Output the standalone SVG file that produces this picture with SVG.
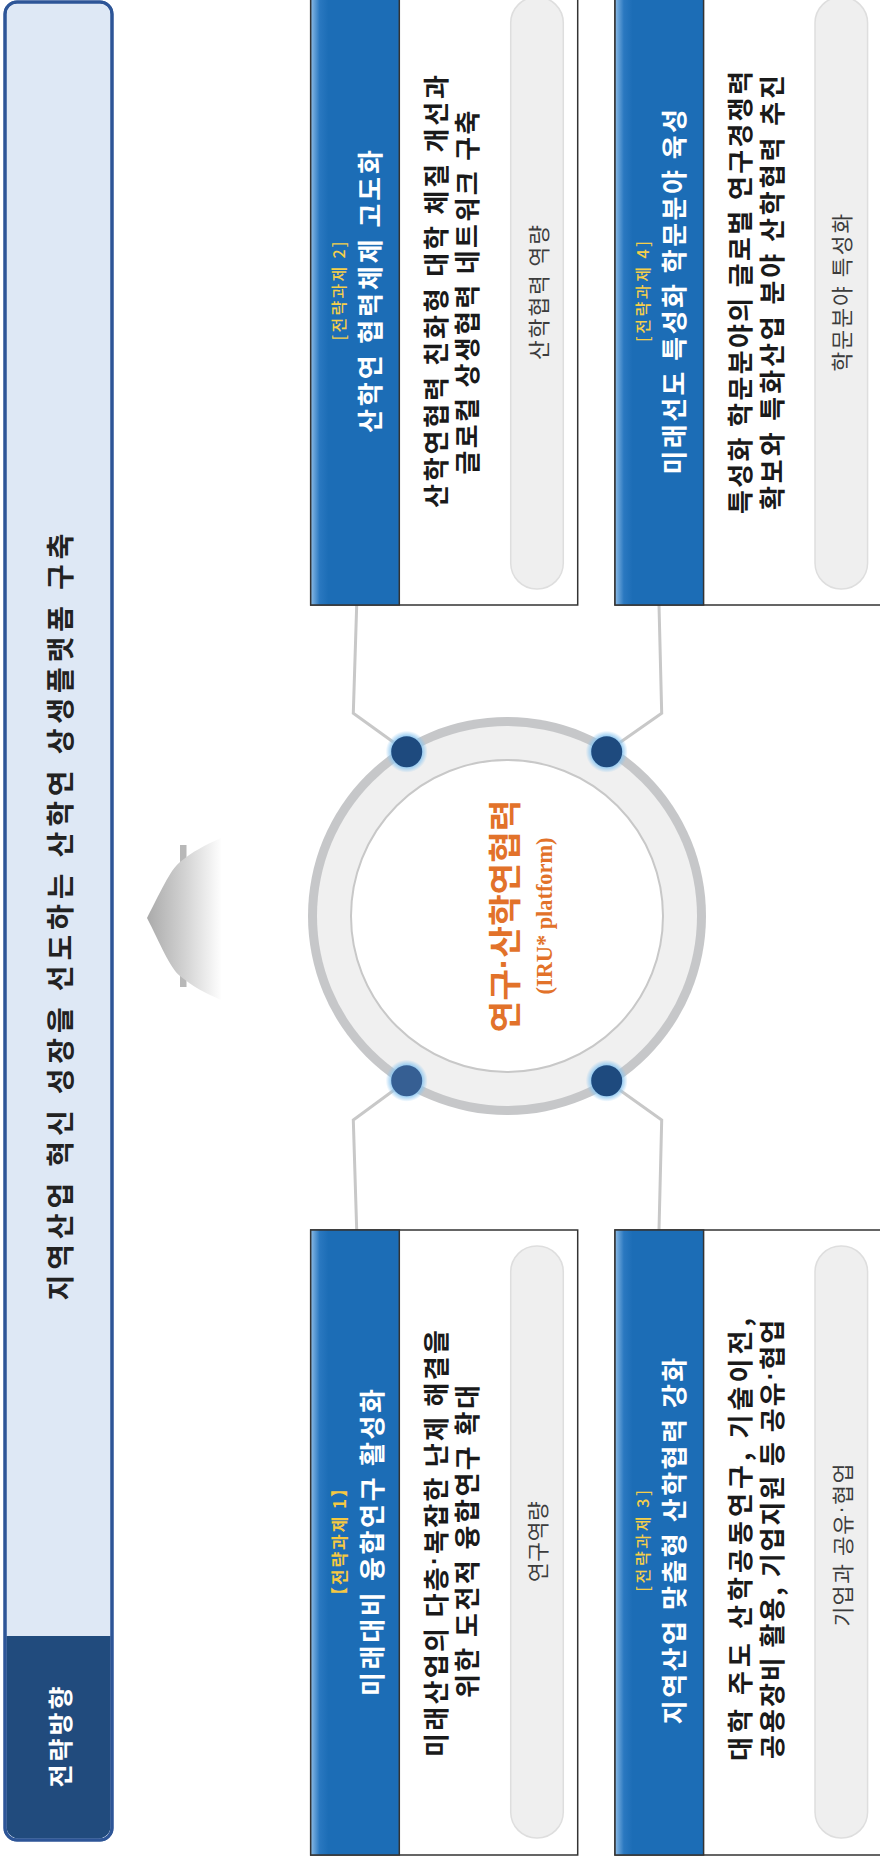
<svg xmlns="http://www.w3.org/2000/svg" width="880" height="1858" viewBox="0 0 880 1858">
<defs>
<style>
.kr{font-family:"Noto Sans CJK KR","Noto Sans",sans-serif;}
.rt{text-anchor:middle;dominant-baseline:central;}
.ls{font-family:"Liberation Sans",sans-serif;}
.ttl{font-size:26px;font-weight:700;fill:#ffffff;}
.body{font-size:26px;font-weight:700;fill:#1a1a1a;}
.lab{font-size:16px;font-weight:500;fill:#f5cf4a;}
.pilltxt{font-size:21.5px;fill:#3c3c3c;}
.card{fill:#ffffff;stroke:#333333;stroke-width:1.5;}
.hdr{fill:url(#hdrg);stroke:#333333;stroke-width:1.5;}
.pill{fill:#efefef;stroke:#dedede;stroke-width:1.5;}
.conn{fill:none;stroke:#c8c8c8;stroke-width:3;stroke-linejoin:miter;}
.dot{fill:#1e4a7e;}
.glow{fill:url(#glowg);}
</style>
<linearGradient id="hdrg" x1="0" y1="0" x2="1" y2="0">
<stop offset="0" stop-color="#8bbbe6"/>
<stop offset="0.1" stop-color="#2a78c0"/>
<stop offset="0.2" stop-color="#1c6db6"/>
<stop offset="1" stop-color="#1c6db6"/>
</linearGradient>
<radialGradient id="glowg" cx="0.5" cy="0.5" r="0.5">
<stop offset="0.7" stop-color="#8cc6f0" stop-opacity="1"/>
<stop offset="1" stop-color="#8cc6f0" stop-opacity="0"/>
</radialGradient>
<linearGradient id="arrg" x1="147" y1="0" x2="222" y2="0" gradientUnits="userSpaceOnUse">
<stop offset="0" stop-color="#aaaaaa"/>
<stop offset="0.5" stop-color="#d2d2d2"/>
<stop offset="1" stop-color="#ffffff"/>
</linearGradient>
</defs>

<g id="banner">
<rect x="5" y="2" width="107" height="1838" rx="12" fill="#dee8f5" stroke="#2d5597" stroke-width="3"/>
<path d="M6.5,1636 H110.5 V1826 A12,12 0 0 1 98.5,1838.5 H18.5 A12,12 0 0 1 6.5,1826 Z" fill="#214b7d"/>
<rect x="5" y="2" width="107" height="1838" rx="12" fill="none" stroke="#2d5597" stroke-width="3"/>
<text class="kr rt" x="59" y="917" transform="rotate(-90 59 917)" font-size="28" font-weight="700" fill="#222222" textLength="767" lengthAdjust="spacing">지역산업 혁신 성장을 선도하는 산학연 상생플랫폼 구축</text>
<text class="kr rt" x="59" y="1737" transform="rotate(-90 59 1737)" font-size="25" font-weight="700" fill="#ffffff" textLength="101" lengthAdjust="spacing">전략방향</text>
</g>

<g id="arrow">
<rect x="180" y="845" width="6.5" height="142" fill="#b8b8b8"/>
<path d="M147,918 C160,893 170,870 180,862 C192,852 205,845 221,838 L221,1000 C205,993 192,986 180,976 C170,968 160,943 147,918 Z" fill="url(#arrg)"/>
</g>

<g id="connectors">
<polyline class="conn" points="356.7,605 353.3,713.3 406.7,751.7"/>
<polyline class="conn" points="659,605 661.7,713.3 606.7,751.7"/>
<polyline class="conn" points="356.7,1230 353.3,1120 406.7,1080.7"/>
<polyline class="conn" points="659,1230 661.7,1120 606.7,1080.7"/>
</g>

<g id="platform">
<circle cx="507" cy="916" r="199" fill="#c6c7c9"/>
<circle cx="507" cy="916" r="190" fill="#f0f0f0"/>
<circle cx="507" cy="916" r="156" fill="#ffffff" stroke="#c8c8c8" stroke-width="2"/>
<text class="kr rt" x="503" y="916" transform="rotate(-90 503 916)" font-size="33" font-weight="700" fill="#e2722a" textLength="233" lengthAdjust="spacingAndGlyphs">연구<tspan class="ls">·</tspan>산학연협력</text>
<text class="rt" x="544" y="916" transform="rotate(-90 544 916)" font-family="Liberation Serif, serif" font-size="23" font-weight="700" fill="#e2722a" textLength="157" lengthAdjust="spacingAndGlyphs">(IRU* platform)</text>
<circle class="glow" cx="406.7" cy="751.7" r="21"/>
<circle class="dot" cx="406.7" cy="751.7" r="15.5"/>
<circle class="glow" cx="606.7" cy="751.7" r="21"/>
<circle class="dot" cx="606.7" cy="751.7" r="15.5"/>
<circle class="glow" cx="406.7" cy="1080.7" r="21"/>
<circle cx="406.7" cy="1080.7" r="15.5" fill="#365f93"/>
<circle class="glow" cx="606.7" cy="1080.7" r="21"/>
<circle class="dot" cx="606.7" cy="1080.7" r="15.5"/>
</g>

<g id="task2">
<rect class="card" x="310.7" y="-20" width="267" height="625"/>
<rect class="hdr" x="310.7" y="-20" width="88.6" height="625"/>
<rect class="pill" x="510.7" y="-3" width="52.6" height="592" rx="26"/>
<text class="kr rt lab" x="338" y="291" transform="rotate(-90 338 291)" textLength="99" lengthAdjust="spacing">[전략과제 2]</text>
<text class="kr rt ttl" x="368" y="291.5" transform="rotate(-90 368 291.5)" textLength="283" lengthAdjust="spacing">산학연 협력체제 고도화</text>
<text class="kr rt body" x="434" y="291.5" transform="rotate(-90 434 291.5)" textLength="433" lengthAdjust="spacing">산학연협력 친화형 대학 체질 개선과</text>
<text class="kr rt body" x="465.5" y="292.6" transform="rotate(-90 465.5 292.6)" textLength="364" lengthAdjust="spacing">글로컬 상생협력 네트워크 구축</text>
<text class="kr rt pilltxt" x="537" y="292.5" transform="rotate(-90 537 292.5)" textLength="135" lengthAdjust="spacing">산학협력 역량</text>
</g>

<g id="task4">
<rect class="card" x="615" y="-20" width="267" height="625"/>
<rect class="hdr" x="615" y="-20" width="88.6" height="625"/>
<rect class="pill" x="815" y="-3" width="52.6" height="592" rx="26"/>
<text class="kr rt lab" x="642" y="291.5" transform="rotate(-90 642 291.5)" textLength="101" lengthAdjust="spacing">[전략과제 4]</text>
<text class="kr rt ttl" x="672.5" y="291.8" transform="rotate(-90 672.5 291.8)" textLength="365.5" lengthAdjust="spacing">미래선도 특성화 학문분야 육성</text>
<text class="kr rt body" x="738" y="292.5" transform="rotate(-90 738 292.5)" textLength="443" lengthAdjust="spacing">특성화 학문분야의 글로벌 연구경쟁력</text>
<text class="kr rt body" x="770" y="292.5" transform="rotate(-90 770 292.5)" textLength="435" lengthAdjust="spacing">확보와 특화산업 분야 산학협력 추진</text>
<text class="kr rt pilltxt" x="841" y="292.6" transform="rotate(-90 841 292.6)" textLength="158" lengthAdjust="spacing">학문분야 특성화</text>
</g>

<g id="task1">
<rect class="card" x="310.7" y="1230" width="267" height="625"/>
<rect class="hdr" x="310.7" y="1230" width="88.6" height="625"/>
<rect class="pill" x="510.7" y="1246" width="52.6" height="592" rx="26"/>
<text class="kr rt" x="338" y="1542" transform="rotate(-90 338 1542)" font-size="17" font-weight="700" fill="#f5c842" textLength="124" lengthAdjust="spacing">【전략과제 1】</text>
<text class="kr rt ttl" x="370.5" y="1542.5" transform="rotate(-90 370.5 1542.5)" textLength="307" lengthAdjust="spacing">미래대비 융합연구 활성화</text>
<text class="kr rt body" x="434" y="1543.5" transform="rotate(-90 434 1543.5)" textLength="427" lengthAdjust="spacing">미래산업의 다층<tspan class="ls">·</tspan>복잡한 난제 해결을</text>
<text class="kr rt body" x="465.5" y="1541.6" transform="rotate(-90 465.5 1541.6)" textLength="313" lengthAdjust="spacing">위한 도전적 융합연구 확대</text>
<text class="kr rt pilltxt" x="537" y="1541.6" transform="rotate(-90 537 1541.6)" textLength="81" lengthAdjust="spacing">연구역량</text>
</g>

<g id="task3">
<rect class="card" x="615" y="1230" width="267" height="625"/>
<rect class="hdr" x="615" y="1230" width="88.6" height="625"/>
<rect class="pill" x="815" y="1246" width="52.6" height="592" rx="26"/>
<text class="kr rt lab" x="642" y="1541" transform="rotate(-90 642 1541)" textLength="101.7" lengthAdjust="spacing">[전략과제 3]</text>
<text class="kr rt ttl" x="672" y="1541" transform="rotate(-90 672 1541)" textLength="366.6" lengthAdjust="spacing">지역산업 맞춤형 산학협력 강화</text>
<text class="kr rt body" x="738.5" y="1539.5" transform="rotate(-90 738.5 1539.5)" textLength="443" lengthAdjust="spacing">대학 주도 산학공동연구, 기술이전,</text>
<text class="kr rt body" x="770.5" y="1539.4" transform="rotate(-90 770.5 1539.4)" textLength="439" lengthAdjust="spacing">공용장비 활용, 기업지원 등 공유<tspan class="ls">·</tspan>협업</text>
<text class="kr rt pilltxt" x="841" y="1545" transform="rotate(-90 841 1545)" textLength="163" lengthAdjust="spacing">기업과 공유<tspan class="ls">·</tspan>협업</text>
</g>
</svg>
